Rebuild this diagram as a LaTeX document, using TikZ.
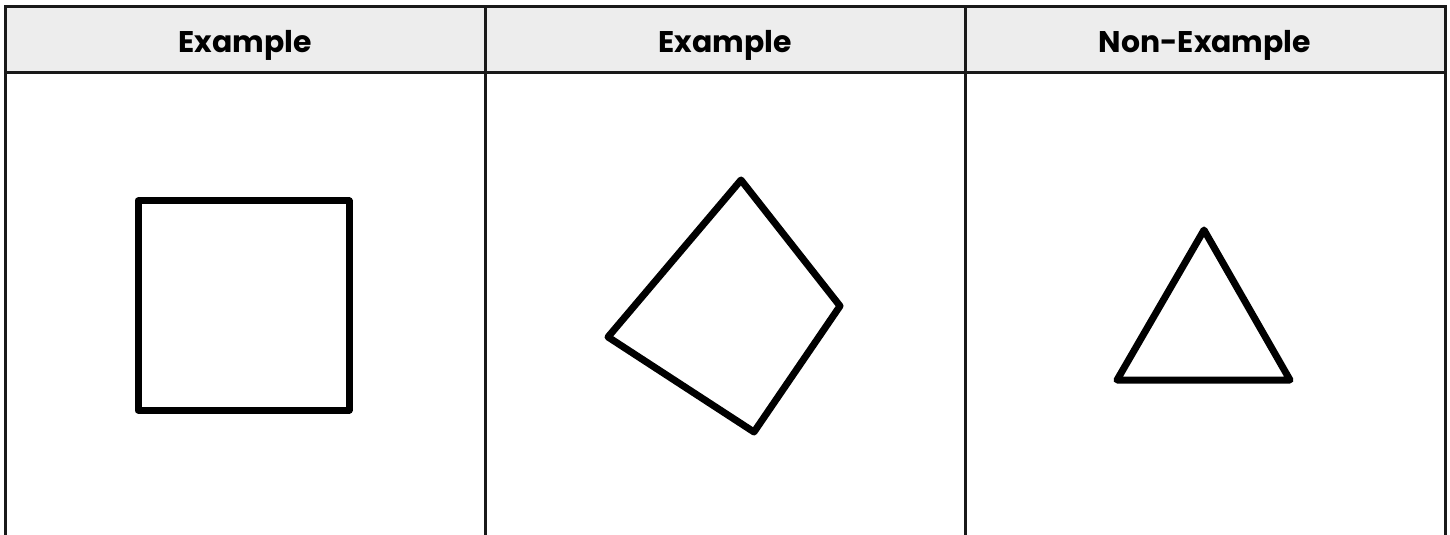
\documentclass[tikz,border=0pt]{standalone}
\usepackage{fontspec}
\setmainfont{Poppins}[UprightFont=*-Regular,BoldFont=*-Bold]
\begin{document}
\begin{tikzpicture}[x=1bp,y=-1bp,
  grid/.style={draw=black!90,line width=3bp},
  outline/.style={draw=black,line width=7bp,line join=round,line cap=round},
  head/.style={font=\fontsize{30}{36}\selectfont\bfseries,anchor=base,inner sep=0pt}]
\useasboundingbox (0,0) rectangle (1450,535);
\fill[white] (0,0) rectangle (1450,535);
\fill[black!7] (5,7) rectangle (1445,73);
\draw[grid] (5,545) -- (5,7) -- (1445,7) -- (1445,545);
\draw[grid] (5,73) -- (1445,73);
\draw[grid] (485,7) -- (485,545);
\draw[grid] (965,7) -- (965,545);
\node[head] (h1) at (245,53) {Example};
\node[head] (h2) at (725,53) {Example};
\node[head] (h3) at (1205,53) {Non-Example};
\draw[outline] (138,201) rectangle (349,410);
\draw[outline] (741,180) -- (840,306) -- (754,432) -- (608,337) -- cycle;
\draw[outline] (1204,230) -- (1290,380) -- (1117,380) -- cycle;
\end{tikzpicture}
\end{document}
